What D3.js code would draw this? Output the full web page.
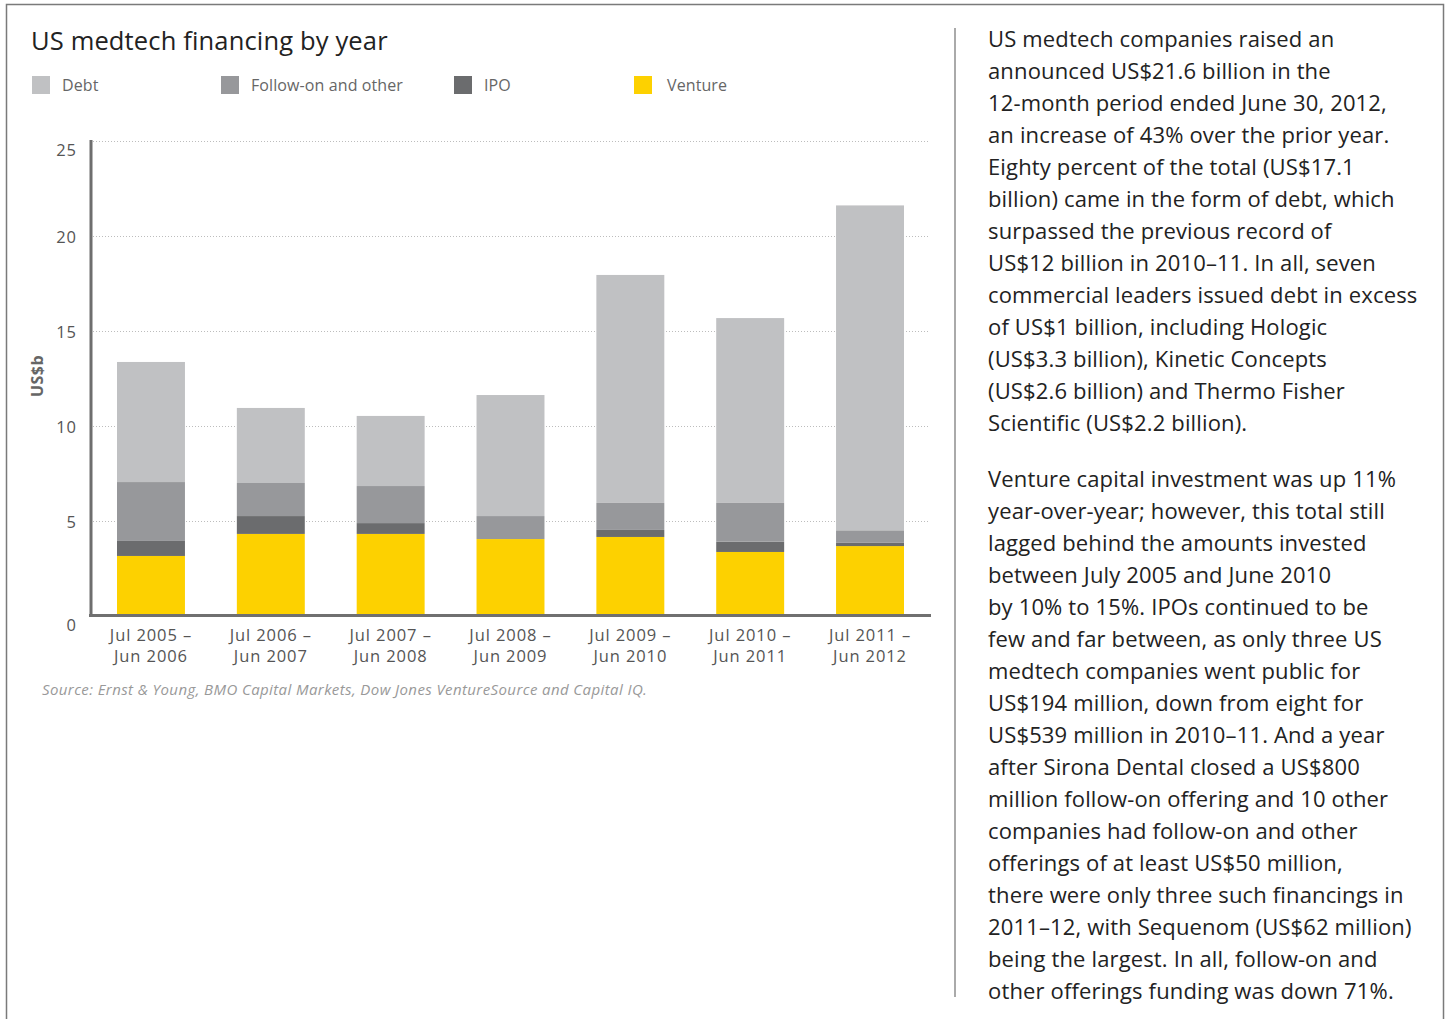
<!DOCTYPE html>
<html>
<head>
<meta charset="utf-8">
<script src="https://cdn.jsdelivr.net/npm/d3@7"></script>
<style>
  body { margin: 0; background: #fff; }
  svg { display: block; font-family: "Open Sans", "Noto Sans", sans-serif; }
</style>
</head>
<body>
<svg id="chart" width="1447" height="1019"></svg>
<script>
// Financing by 12-month period (US$ billions)
const periodStart = ["Jul 2005 \u2013", "Jul 2006 \u2013", "Jul 2007 \u2013", "Jul 2008 \u2013", "Jul 2009 \u2013", "Jul 2010 \u2013", "Jul 2011 \u2013"];
const periodEnd   = ["Jun 2006", "Jun 2007", "Jun 2008", "Jun 2009", "Jun 2010", "Jun 2011", "Jun 2012"];
const venture  = [3.16, 4.32, 4.32, 4.05, 4.16, 3.37, 3.68];
const ipo      = [0.79, 0.94, 0.57, 0.00, 0.37, 0.54, 0.19];
const followOn = [3.10, 1.74, 1.95, 1.21, 1.42, 2.04, 0.64];
const debt     = [6.32, 3.95, 3.69, 6.37, 12.00, 9.73, 17.10];
const yTicks = [0, 5, 10, 15, 20, 25];
const legendNames = ["Debt", "Follow-on and other", "IPO", "Venture"];

const paragraphs = [
  ["US medtech companies raised an",
   "announced US$21.6 billion in the",
   "12-month period ended June 30, 2012,",
   "an increase of 43% over the prior year.",
   "Eighty percent of the total (US$17.1",
   "billion) came in the form of debt, which",
   "surpassed the previous record of",
   "US$12 billion in 2010\u201311. In all, seven",
   "commercial leaders issued debt in excess",
   "of US$1 billion, including Hologic",
   "(US$3.3 billion), Kinetic Concepts",
   "(US$2.6 billion) and Thermo Fisher",
   "Scientific (US$2.2 billion)."],
  ["Venture capital investment was up 11%",
   "year-over-year; however, this total still",
   "lagged behind the amounts invested",
   "between July 2005 and June 2010",
   "by 10% to 15%. IPOs continued to be",
   "few and far between, as only three US",
   "medtech companies went public for",
   "US$194 million, down from eight for",
   "US$539 million in 2010\u201311. And a year",
   "after Sirona Dental closed a US$800",
   "million follow-on offering and 10 other",
   "companies had follow-on and other",
   "offerings of at least US$50 million,",
   "there were only three such financings in",
   "2011\u201312, with Sequenom (US$62 million)",
   "being the largest. In all, follow-on and",
   "other offerings funding was down 71%."]
];

const colors = { debt: "#c0c1c3", followOn: "#97989b", ipo: "#6b6c6e", venture: "#fdd100" };
const legendColors = [colors.debt, colors.followOn, colors.ipo, colors.venture];

const svg = d3.select("#chart");

// frame
svg.append("rect").attr("x", 6.5).attr("y", 4.5).attr("width", 1437).attr("height", 1030)
  .attr("fill", "none").attr("stroke", "#7a7a7a").attr("stroke-width", 1.5);

// title + legend
svg.append("text").attr("x", 31).attr("y", 50).attr("font-size", 25.5).attr("fill", "#222")
  .attr("letter-spacing", 0.15)
  .text("US medtech financing by year");

const legendX = [32, 221, 454, 634];
const lg = svg.append("g").selectAll("g").data(legendNames).join("g")
  .attr("transform", (d, i) => `translate(${legendX[i]},76)`);
lg.append("rect").attr("width", 18).attr("height", 18).attr("fill", (d, i) => legendColors[i]);
lg.append("text").attr("x", (d, i) => i === 3 ? 33 : 30).attr("y", 15).attr("font-size", 16)
  .attr("letter-spacing", 0.1).attr("fill", "#666").text(d => d);

// scales
const x = d3.scaleBand().domain(d3.range(periodEnd.length)).range([91, 930])
  .paddingInner(0.433).paddingOuter(0.217);
const y = d3.scaleLinear().domain([0, 25]).range([616, 141]);

// gridlines
svg.append("g").selectAll("line").data(yTicks.filter(t => t > 0)).join("line")
  .attr("x1", 93).attr("x2", 928).attr("y1", d => y(d) + 0.5).attr("y2", d => y(d) + 0.5)
  .attr("stroke", "#bdbdbd").attr("stroke-width", 1).attr("stroke-dasharray", "1,2");

// stacked bars: venture, IPO, follow-on, debt from the bottom up
const rows = periodEnd.map((p, i) => ({ i, venture: venture[i], ipo: ipo[i], followOn: followOn[i], debt: debt[i] }));
const stack = d3.stack().keys(["venture", "ipo", "followOn", "debt"]);
const layers = stack(rows);
svg.append("g").selectAll("g").data(layers).join("g")
  .attr("fill", d => colors[d.key])
  .selectAll("rect").data(d => d).join("rect")
  .attr("x", d => x(d.data.i))
  .attr("width", x.bandwidth())
  .attr("y", d => y(d[1]))
  .attr("height", d => y(d[0]) - y(d[1]));

// y axis
const yAxis = svg.append("g").attr("transform", "translate(77,0)")
  .call(d3.axisLeft(y).tickValues(yTicks).tickSize(0).tickPadding(0));
yAxis.select(".domain").remove();
yAxis.selectAll("text").attr("font-size", 16.5).attr("fill", "#555").attr("letter-spacing", 1)
  .attr("font-family", '"Open Sans", "Noto Sans", sans-serif')
  .attr("dy", d => d === 25 ? "0.9em" : d === 0 ? "0.85em" : "0.4em");

svg.append("line").attr("x1", 91).attr("x2", 91).attr("y1", 140).attr("y2", 617)
  .attr("stroke", "#6e6e6e").attr("stroke-width", 3);
svg.append("line").attr("x1", 89).attr("x2", 931).attr("y1", 615.5).attr("y2", 615.5)
  .attr("stroke", "#707070").attr("stroke-width", 3);

svg.append("text").attr("transform", "translate(43,376) rotate(-90)")
  .attr("text-anchor", "middle").attr("font-size", 16).attr("font-weight", "bold")
  .attr("letter-spacing", 0.5).attr("fill", "#666").text("US$b");

// x axis labels (two lines)
const xl = svg.append("g").selectAll("text").data(periodEnd).join("text")
  .attr("text-anchor", "middle").attr("font-size", 16.5).attr("letter-spacing", 0.9).attr("fill", "#555");
xl.append("tspan").attr("x", (d, i) => x(i) + x.bandwidth() / 2).attr("y", 641).text((d, i) => periodStart[i]);
xl.append("tspan").attr("x", (d, i) => x(i) + x.bandwidth() / 2).attr("y", 662).text(d => d);

// source
svg.append("text").attr("x", 42).attr("y", 695).attr("font-size", 15).attr("font-style", "italic")
  .attr("letter-spacing", 0.4)
  .attr("fill", "#999").text("Source:  Ernst & Young, BMO Capital Markets, Dow Jones VentureSource and Capital IQ.");

// separator
svg.append("line").attr("x1", 955).attr("x2", 955).attr("y1", 28).attr("y2", 997)
  .attr("stroke", "#aaa").attr("stroke-width", 2);

// commentary
const body = svg.append("g").attr("font-size", 22).attr("letter-spacing", 0.15).attr("fill", "#222");
const starts = [47, 487];
paragraphs.forEach((lines, p) => {
  body.append("g").selectAll("text").data(lines).join("text")
    .attr("x", 988).attr("y", (d, i) => starts[p] + i * 32).text(d => d);
});
</script>
</body>
</html>
